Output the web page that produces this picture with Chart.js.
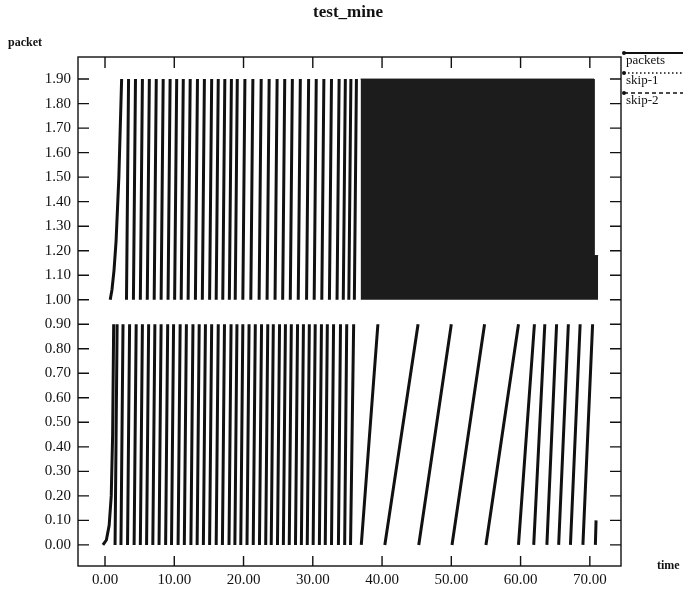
<!DOCTYPE html>
<html>
<head>
<meta charset="utf-8">
<script src="https://cdn.jsdelivr.net/npm/chart.js@4.4.1/dist/chart.umd.min.js"></script>
<style>
  body { margin: 0; background: #fff; }
  #c { display: block; }
</style>
</head>
<body>
<canvas id="c" width="683" height="592"></canvas>
<script>
// tick labels
const xTicks = [0, 10, 20, 30, 40, 50, 60, 70];
const yTicks = [0, 0.1, 0.2, 0.3, 0.4, 0.5, 0.6, 0.7, 0.8, 0.9, 1.0, 1.1, 1.2, 1.3, 1.4, 1.5, 1.6, 1.7, 1.8, 1.9];

// packets (lower band): slow-start curve, then ramps 0 -> top
const lowCurveT = [-0.3, 0.2, 0.6, 0.9, 1.1, 1.25];
const lowCurveY = [0, 0.02, 0.08, 0.2, 0.45, 0.9];
const lowStart = [1.45, 2.3, 3.25, 4.2, 5.1, 6.0, 6.9, 7.8, 8.75, 9.6, 10.55, 11.45, 12.4, 13.3, 14.2, 15.1, 16.05, 16.95, 17.9, 18.75,
  19.6, 20.5, 21.4, 22.3, 23.2, 24.0, 24.9, 25.75, 26.6, 27.5, 28.35, 29.2, 30.05, 30.95, 31.8, 32.7, 33.7, 34.6, 35.45,
  37.0, 40.4, 45.3, 50.1, 55.0, 59.7, 61.9, 63.8, 65.5, 67.2, 69.0, 70.8];
const lowEnd = [1.75, 2.6, 3.55, 4.5, 5.4, 6.3, 7.2, 8.1, 9.05, 9.9, 10.85, 11.75, 12.7, 13.6, 14.5, 15.4, 16.35, 17.25, 18.2, 19.05,
  19.9, 20.8, 21.7, 22.6, 23.5, 24.3, 25.2, 26.05, 26.9, 27.8, 28.65, 29.5, 30.35, 31.25, 32.1, 33.0, 34.0, 34.9, 35.9,
  39.4, 45.2, 50.0, 54.8, 59.7, 62.0, 63.5, 65.2, 66.9, 68.6, 70.4, 70.9];
const lowTop = [0.9, 0.9, 0.9, 0.9, 0.9, 0.9, 0.9, 0.9, 0.9, 0.9, 0.9, 0.9, 0.9, 0.9, 0.9, 0.9, 0.9, 0.9, 0.9, 0.9,
  0.9, 0.9, 0.9, 0.9, 0.9, 0.9, 0.9, 0.9, 0.9, 0.9, 0.9, 0.9, 0.9, 0.9, 0.9, 0.9, 0.9, 0.9, 0.9,
  0.9, 0.9, 0.9, 0.9, 0.9, 0.9, 0.9, 0.9, 0.9, 0.9, 0.9, 0.1];

// skip-1 (upper band): curve, then ramps 1.0 -> 1.9
const upCurveT = [0.75, 1.0, 1.3, 1.6, 2.0, 2.4];
const upCurveY = [1.0, 1.04, 1.12, 1.24, 1.5, 1.9];
const upStart = [3.1, 4.1, 5.1, 6.1, 7.1, 8.1, 9.1, 10.05, 11.0, 12.0, 13.05, 14.05, 15.1, 16.05, 17.0, 17.95, 18.8,
  19.9, 21.05, 22.25, 23.4, 24.55, 25.65, 26.75, 27.9, 29.1, 30.2, 31.3, 32.4, 33.5, 34.4, 35.2, 36.0];
const upEnd = [3.4, 4.4, 5.4, 6.4, 7.4, 8.4, 9.4, 10.35, 11.3, 12.3, 13.35, 14.35, 15.4, 16.35, 17.3, 18.25, 19.1,
  20.2, 21.35, 22.55, 23.7, 24.85, 25.95, 27.05, 28.2, 29.4, 30.5, 31.6, 32.7, 33.8, 34.7, 35.5, 36.3];

// skip-2: the saturated block in the upper band
const blockT = [36.9, 70.6, 70.6, 71.2];
const blockY = [1.9, 1.9, 1.18, 1.18];

function ramps(curveT, curveY, starts, ends, base, tops) {
  const pts = curveT.map((t, i) => ({x: t, y: curveY[i]}));
  pts.push({x: curveT[curveT.length - 1], y: null});
  starts.forEach((s, i) => {
    pts.push({x: s, y: base});
    pts.push({x: ends[i], y: tops ? tops[i] : 1.9});
    pts.push({x: ends[i], y: null});
  });
  return pts;
}

const serif = '"Liberation Serif", "DejaVu Serif", serif';

const frame = {
  id: 'frame',
  afterDraw(chart) {
    const ctx = chart.ctx, a = chart.chartArea;
    const xs = chart.scales.x, ys = chart.scales.y;
    ctx.save();
    ctx.strokeStyle = '#111';
    ctx.lineWidth = 1.4;
    ctx.strokeRect(a.left, a.top, a.right - a.left, a.bottom - a.top);
    ctx.beginPath();
    xTicks.forEach(v => {
      const px = xs.getPixelForValue(v);
      ctx.moveTo(px, a.bottom); ctx.lineTo(px, a.bottom - 10);
      ctx.moveTo(px, a.top); ctx.lineTo(px, a.top + 11);
    });
    yTicks.forEach(v => {
      const py = ys.getPixelForValue(v);
      ctx.moveTo(a.left, py); ctx.lineTo(a.left + 11, py);
      ctx.moveTo(a.right, py); ctx.lineTo(a.right - 11, py);
    });
    ctx.stroke();

    ctx.fillStyle = '#111';
    ctx.textBaseline = 'middle';
    ctx.textAlign = 'center';
    ctx.font = 'bold 17px ' + serif;
    ctx.fillText('test_mine', 348, 13);
    ctx.textAlign = 'left';
    ctx.font = 'bold 12px ' + serif;
    ctx.fillText('packet', 8, 43);
    ctx.fillText('time', 657, 566);

    // legend
    const styles = [[], [1.5, 2.5], [4, 3]];
    chart.data.datasets.forEach((ds, i) => {
      const ly = 53 + i * 20;
      ctx.setLineDash(styles[i]);
      ctx.lineWidth = i === 0 ? 2 : 1.4;
      ctx.beginPath();
      ctx.moveTo(624, ly); ctx.lineTo(683, ly);
      ctx.stroke();
      ctx.setLineDash([]);
      ctx.beginPath();
      ctx.arc(624, ly, 2, 0, Math.PI * 2);
      ctx.fill();
      ctx.font = '13px ' + serif;
      ctx.fillText(ds.label, 626, ly + 8);
    });
    ctx.restore();
  }
};

new Chart(document.getElementById('c'), {
  type: 'scatter',
  data: {
    datasets: [
      {
        label: 'packets',
        data: ramps(lowCurveT, lowCurveY, lowStart, lowEnd, 0, lowTop),
        showLine: true, spanGaps: false,
        borderColor: '#111', borderWidth: 3, pointRadius: 0
      },
      {
        label: 'skip-1',
        data: ramps(upCurveT, upCurveY, upStart, upEnd, 1.0, null),
        showLine: true, spanGaps: false,
        borderColor: '#111', borderWidth: 3, pointRadius: 0
      },
      {
        label: 'skip-2',
        data: blockT.map((t, i) => ({x: t, y: blockY[i]})),
        showLine: true,
        borderColor: '#1c1c1c', borderWidth: 1,
        backgroundColor: '#1c1c1c',
        fill: {value: 1.0},
        pointRadius: 0
      }
    ]
  },
  options: {
    responsive: false,
    animation: false,
    layout: { padding: { top: 57, right: 62, left: 0, bottom: 0 } },
    plugins: { legend: { display: false }, tooltip: { enabled: false } },
    scales: {
      x: {
        type: 'linear', min: -3.9, max: 74.5,
        afterBuildTicks: s => { s.ticks = xTicks.map(v => ({value: v})); },
        afterFit: s => { s.height = 26; },
        grid: { display: false, drawTicks: false, tickLength: 0 },
        border: { display: false },
        ticks: {
          padding: 5, color: '#111', maxRotation: 0,
          font: { family: serif, size: 15 },
          callback: v => v.toFixed(2)
        }
      },
      y: {
        type: 'linear', min: -0.086, max: 1.99,
        afterBuildTicks: s => { s.ticks = yTicks.map(v => ({value: v})); },
        afterFit: s => { s.width = 78; },
        grid: { display: false, drawTicks: false, tickLength: 0 },
        border: { display: false },
        ticks: {
          padding: 7, color: '#111',
          font: { family: serif, size: 15 },
          callback: v => v.toFixed(2)
        }
      }
    }
  },
  plugins: [frame]
});
</script>
</body>
</html>
